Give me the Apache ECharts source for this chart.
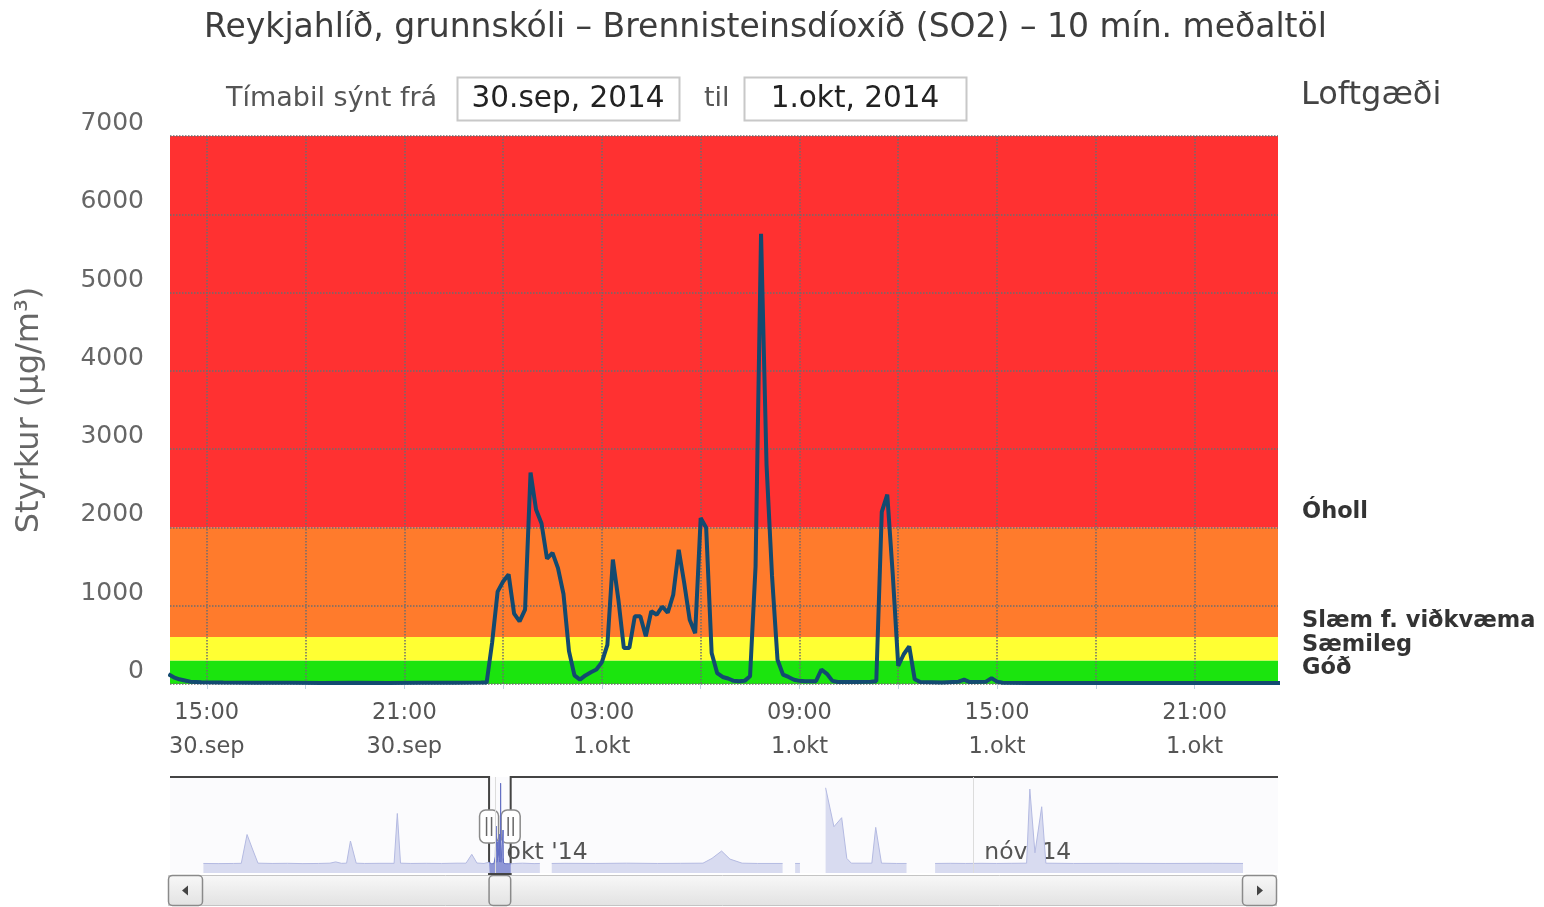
<!DOCTYPE html>
<html><head><meta charset="utf-8">
<script src="https://cdn.jsdelivr.net/npm/echarts@6/dist/echarts.min.js"></script>
<style>html,body{margin:0;padding:0;background:#fff}#c{width:1544px;height:907px}</style>
</head><body><div id="c"></div>
<script>
// ---- main series (10 min averages) ----
const mainTimes = [
'2014-09-30 13:50','2014-09-30 14:00','2014-09-30 14:10','2014-09-30 14:20','2014-09-30 14:30','2014-09-30 14:50',
'2014-09-30 15:30','2014-09-30 16:30','2014-09-30 17:30','2014-09-30 18:30','2014-09-30 19:30','2014-09-30 20:30',
'2014-09-30 21:30','2014-09-30 22:30','2014-09-30 23:20','2014-09-30 23:30','2014-09-30 23:40','2014-09-30 23:50',
'2014-10-01 00:00','2014-10-01 00:10','2014-10-01 00:20','2014-10-01 00:30','2014-10-01 00:40','2014-10-01 00:50',
'2014-10-01 01:00','2014-10-01 01:10','2014-10-01 01:20','2014-10-01 01:30','2014-10-01 01:40','2014-10-01 01:50',
'2014-10-01 02:00','2014-10-01 02:10','2014-10-01 02:20','2014-10-01 02:30','2014-10-01 02:40','2014-10-01 02:50',
'2014-10-01 03:00','2014-10-01 03:10','2014-10-01 03:20','2014-10-01 03:30','2014-10-01 03:40','2014-10-01 03:50',
'2014-10-01 04:00','2014-10-01 04:10','2014-10-01 04:20','2014-10-01 04:30','2014-10-01 04:40','2014-10-01 04:50',
'2014-10-01 05:00','2014-10-01 05:10','2014-10-01 05:20','2014-10-01 05:30','2014-10-01 05:40','2014-10-01 05:50',
'2014-10-01 06:00','2014-10-01 06:10','2014-10-01 06:20','2014-10-01 06:30','2014-10-01 06:40','2014-10-01 06:50',
'2014-10-01 07:00','2014-10-01 07:10','2014-10-01 07:20','2014-10-01 07:30','2014-10-01 07:40','2014-10-01 07:50',
'2014-10-01 08:00','2014-10-01 08:10','2014-10-01 08:20','2014-10-01 08:30','2014-10-01 08:40','2014-10-01 08:50',
'2014-10-01 09:00','2014-10-01 09:10','2014-10-01 09:20','2014-10-01 09:30','2014-10-01 09:40','2014-10-01 09:50',
'2014-10-01 10:00','2014-10-01 10:10','2014-10-01 10:40','2014-10-01 11:10','2014-10-01 11:20','2014-10-01 11:30',
'2014-10-01 11:40','2014-10-01 11:50','2014-10-01 12:00','2014-10-01 12:10','2014-10-01 12:20','2014-10-01 12:30',
'2014-10-01 12:40','2014-10-01 13:20','2014-10-01 13:50','2014-10-01 14:00','2014-10-01 14:10','2014-10-01 14:40',
'2014-10-01 14:50','2014-10-01 15:00','2014-10-01 15:10','2014-10-01 16:00','2014-10-01 17:00','2014-10-01 18:00',
'2014-10-01 19:00','2014-10-01 20:00','2014-10-01 21:00','2014-10-01 22:00','2014-10-01 23:00','2014-10-01 23:40'
];
const mainValues = [
125,85,60,45,30,22,
18,15,15,14,15,14,
15,16,18,20,530,1180,
1310,1400,900,800,950,2700,
2230,2050,1600,1675,1480,1150,
420,110,55,110,150,185,
280,500,1590,1080,460,460,
865,865,610,930,885,990,
910,1140,1715,1290,820,650,
2120,1995,395,140,90,70,
40,35,40,100,1500,5750,
2800,1380,310,120,90,55,
40,35,35,35,185,130,
40,25,25,30,35,2200,
2420,1400,230,380,480,60,
25,20,30,55,25,30,
75,30,15,12,13,12,
14,12,13,12,13,12
];
// ---- navigator overview (outside the shown period) ----
const navBeforeTimes = [
'2014-09-12 01:00','2014-09-13 00:00','2014-09-14 00:00','2014-09-14 12:00','2014-09-14 21:00','2014-09-15 06:00',
'2014-09-15 14:00','2014-09-16 12:00','2014-09-17 12:00','2014-09-18 12:00','2014-09-19 12:00','2014-09-20 06:00',
'2014-09-20 15:00','2014-09-21 00:00','2014-09-21 08:00','2014-09-21 14:00','2014-09-21 23:00','2014-09-22 12:00',
'2014-09-23 12:00','2014-09-24 10:00','2014-09-24 15:00','2014-09-24 20:00','2014-09-25 12:00','2014-09-26 12:00',
'2014-09-27 12:00','2014-09-28 12:00','2014-09-29 02:00','2014-09-29 11:00','2014-09-29 19:00','2014-09-30 06:00'
];
const navBeforeValues = [
40,30,40,50,2100,1000,
60,40,50,30,40,60,
150,50,60,1640,60,40,
50,50,3600,60,40,50,
40,60,60,690,70,40
];
const navAfterTimes = [
'2014-10-02 06:00','2014-10-02 18:00','2014-10-03 12:00','2014-10-03 21:00','2014-10-04 06:00','2014-10-04 15:30',
'2014-10-05 12:00','2014-10-07 12:00','2014-10-09 12:00','2014-10-11 12:00','2014-10-13 00:00','2014-10-14 11:00',
'2014-10-15 01:00','2014-10-15 16:00','2014-10-16 05:00','2014-10-17 00:00','2014-10-18 00:00','2014-10-19 15:00',
'2014-10-20 00:00','2014-10-20 10:30','2014-10-20 18:00','2014-10-21 06:00','2014-10-22 10:00','2014-10-22 23:00',
'2014-10-23 11:00','2014-10-23 19:00','2014-10-24 02:00','2014-10-25 10:00','2014-10-25 16:00','2014-10-26 01:00',
'2014-10-27 00:00','2014-10-27 16:00','2014-10-28 12:00','2014-10-29 12:30','2014-10-30 12:00','2014-10-31 12:00',
'2014-11-01 12:00','2014-11-02 12:00','2014-11-03 12:00','2014-11-04 11:00','2014-11-04 16:00','2014-11-05 00:00',
'2014-11-05 10:30','2014-11-05 17:00','2014-11-07 12:00','2014-11-10 12:00','2014-11-13 12:00','2014-11-16 12:00',
'2014-11-18 12:00'
];
const navAfterValues = [
40,60,30,40,null,40,
50,40,60,40,50,60,
400,925,350,60,40,40,
null,40,40,null,5430,2660,
3300,400,60,60,2610,60,
40,40,null,40,50,40,
50,40,50,60,5340,800,
4080,60,40,50,40,50,
40
];
// ---- air quality bands ----
const bandLimits = [0, 300, 600, 2000, 7000];
const bandNames = ['Góð', 'Sæmileg', 'Slæm f. viðkvæma', 'Óholl'];
const bandColors = ['#1BE40E', '#FFFF33', '#FF7B2C', '#FF3131'];
// ---- ticks ----
const monthNames = ['jan','feb','mar','apr','maí','jún','júl','ágú','sep','okt','nóv','des'];
const xGridTimes = ['2014-09-30 15:00','2014-09-30 18:00','2014-09-30 21:00','2014-10-01 00:00','2014-10-01 03:00',
  '2014-10-01 06:00','2014-10-01 09:00','2014-10-01 12:00','2014-10-01 15:00','2014-10-01 18:00','2014-10-01 21:00'];
const xLabelTimes = ['2014-09-30 15:00','2014-09-30 21:00','2014-10-01 03:00','2014-10-01 09:00','2014-10-01 15:00','2014-10-01 21:00'];
const navMonthTicks = ['2014-10-01 00:00', '2014-11-01 00:00'];
const rangeStart = '2014-09-30 13:53', rangeEnd = '2014-10-01 23:32';
const navStart = '2014-09-09 21:00', navEnd = '2014-11-20 18:30';

function T(s){const [d,t]=s.split(' ');const [Y,M,D]=d.split('-').map(Number);const [h,m]=t.split(':').map(Number);return Date.UTC(Y,M-1,D,h,m);}
const mainData = mainTimes.map((t,i)=>[T(t), mainValues[i]]);
const navData = [].concat(
  navBeforeTimes.map((t,i)=>[T(t), navBeforeValues[i]]),
  mainData,
  navAfterTimes.map((t,i)=>[T(t), navAfterValues[i]===null?'-':navAfterValues[i]])
);
const bandAreas = bandNames.map((n,i)=>[
  {yAxis: bandLimits[i], name: n, itemStyle:{color: bandColors[i]}},
  {yAxis: bandLimits[i+1]}
]);
const pad = n => (n<10?'0':'')+n;

const chart = echarts.init(document.getElementById('c'), null, {renderer:'canvas'});
const F = '"DejaVu Sans", Verdana, sans-serif';
chart.setOption({
  animation: false,
  useUTC: true,
  backgroundColor: '#fff',
  title: {
    text: 'Reykjahlíð, grunnskóli – Brennisteinsdíoxíð (SO2) – 10 mín. meðaltöl',
    left: 199, top: 7,
    textStyle: {fontFamily: F, fontSize: 33, fontWeight: 'normal', color: '#3d3d3d'}
  },
  grid: [
    {left: 170, right: 266, top: 136, bottom: 223},
    {left: 170, right: 266, top: 777, bottom: 34, show: true, backgroundColor: '#fbfbfd', borderWidth: 0}
  ],
  xAxis: [
    {
      type: 'value', gridIndex: 0, min: T(rangeStart), max: T(rangeEnd), z: 2,
      axisLine: {show: false},
      axisTick: {show: true, length: 5, customValues: xGridTimes.map(T), lineStyle: {color: '#C0D0E0'}},
      splitLine: {show: true, lineStyle: {type: 'dotted', color: '#6e6e6e', width: 1.5}},
      axisLabel: {
        customValues: xLabelTimes.map(T),
        fontFamily: F, fontSize: 22.5, color: '#555', lineHeight: 34, margin: 12, hideOverlap: false,
        formatter: function(v){const d=new Date(v);
          return pad(d.getUTCHours())+':'+pad(d.getUTCMinutes())+'\n'+d.getUTCDate()+'.'+monthNames[d.getUTCMonth()];}
      }
    },
    {
      type: 'time', gridIndex: 1, min: T(navStart), max: T(navEnd), splitNumber: 3,
      axisLine: {show: false}, axisTick: {show: false}, splitLine: {show: false},
      axisLabel: {
        inside: true, align: 'left', margin: 8, hideOverlap: false,
        padding: [0,0,0,11], fontFamily: F, fontSize: 23.5, color: '#555',
        formatter: function(v){const d=new Date(v);
          if(d.getUTCDate()!==1||d.getUTCHours()!==0) return '';
          return monthNames[d.getUTCMonth()]+" '14";}
      }
    }
  ],
  yAxis: [
    {
      type: 'value', gridIndex: 0, min: 0, max: 7000, interval: 1000, z: 2,
      name: 'Styrkur (µg/m³)', nameLocation: 'middle', nameGap: 124, nameRotate: 90,
      nameTextStyle: {fontFamily: F, fontSize: 32, color: '#666'},
      axisLine: {show: false}, axisTick: {show: false},
      splitLine: {show: true, lineStyle: {type: 'dotted', color: '#6e6e6e', width: 1.5}},
      axisLabel: {fontFamily: F, fontSize: 25, color: '#666', formatter: v => String(v),
        margin: 26, verticalAlign: 'bottom', padding: [0,0,0,0]}
    },
    {type: 'value', gridIndex: 1, min: -640, max: 6200, show: false, splitLine: {show: false}}
  ],
  series: [
    {
      type: 'line', xAxisIndex: 0, yAxisIndex: 0, z: 3, data: mainData,
      showSymbol: false, symbol: 'none', clip: true,
      lineStyle: {color: '#134A70', width: 4},
      markArea: {
        silent: true, z: 1,
        label: {show: true, position: ['100%','100%'], offset: [24, -4], align: 'left', verticalAlign: 'bottom',
          fontFamily: F, fontWeight: 'bold', fontSize: 22.5, color: '#333'},
        data: bandAreas
      }
    },
    {
      type: 'line', xAxisIndex: 1, yAxisIndex: 1, data: navData, showSymbol: false, symbol: 'none',
      connectNulls: false,
      lineStyle: {color: '#b4bae2', width: 1},
      areaStyle: {color: '#d8dbf0', opacity: 1, origin: 'start'},
      markLine: {silent: true, symbol: 'none', label: {show: false},
        lineStyle: {color: '#dcdcdc', width: 1, type: 'solid'},
        data: navMonthTicks.map(t=>({xAxis: T(t)}))}
    },
    {
      type: 'line', xAxisIndex: 1, yAxisIndex: 1, data: mainData, showSymbol: false, symbol: 'none',
      lineStyle: {color: '#6470c4', width: 1},
      areaStyle: {color: '#8f97d6', opacity: 1, origin: 'start'}
    }
  ]
});

// ---- controls & navigator decorations ----
const x0 = chart.convertToPixel({xAxisIndex: 1}, T(rangeStart));
const x1 = chart.convertToPixel({xAxisIndex: 1}, T(rangeEnd));
const L = 170, R = 1278, NT = 777, NB = 874;
const grad = new echarts.graphic.LinearGradient(0,0,0,1,[{offset:0,color:'#f8f8f8'},{offset:1,color:'#e2e2e2'}]);
function handle(cx){
  return {type:'group', children:[
    {type:'rect', shape:{x:cx-9.5, y:810, width:19, height:33, r:6}, style:{fill:'#fff', stroke:'#8a8a8a', lineWidth:1.5}},
    {type:'line', shape:{x1:cx-2.5, y1:817, x2:cx-2.5, y2:836}, style:{stroke:'#666', lineWidth:1.5}},
    {type:'line', shape:{x1:cx+2.5, y1:817, x2:cx+2.5, y2:836}, style:{stroke:'#666', lineWidth:1.5}}
  ]};
}
chart.setOption({graphic: [
  {type:'text', x: 226, y: 99, style:{text:'Tímabil sýnt frá', font:'27px '+F, fill:'#555', verticalAlign:'middle'}},
  {type:'rect', shape:{x:457.5, y:77.5, width:222, height:43}, style:{fill:'#fff', stroke:'#c8c8c8', lineWidth:2}},
  {type:'text', x: 568, y: 99, style:{text:'30.sep, 2014', font:'29.5px '+F, fill:'#222', align:'center', verticalAlign:'middle'}},
  {type:'text', x: 704, y: 99, style:{text:'til', font:'27px '+F, fill:'#555', verticalAlign:'middle'}},
  {type:'rect', shape:{x:744.5, y:77.5, width:222, height:43}, style:{fill:'#fff', stroke:'#c8c8c8', lineWidth:2}},
  {type:'text', x: 855, y: 99, style:{text:'1.okt, 2014', font:'29.5px '+F, fill:'#222', align:'center', verticalAlign:'middle'}},
  {type:'text', x: 1301, y: 96, style:{text:'Loftgæði', font:'32px '+F, fill:'#444', verticalAlign:'middle'}},
  // scrollbar
  {type:'rect', shape:{x:168.5, y:875.5, width:1108, height:30}, style:{fill:grad, stroke:'#c4c4c4', lineWidth:1}},
  {type:'rect', shape:{x:168.5, y:875.5, width:34, height:30, r:4}, style:{fill:grad, stroke:'#8a8a8a', lineWidth:1.5}},
  {type:'polygon', shape:{points:[[182,890.5],[188,885.5],[188,895.5]]}, style:{fill:'#444'}},
  {type:'rect', shape:{x:1242.5, y:875.5, width:34, height:30, r:4}, style:{fill:grad, stroke:'#8a8a8a', lineWidth:1.5}},
  {type:'polygon', shape:{points:[[1263,890.5],[1257,885.5],[1257,895.5]]}, style:{fill:'#444'}},
  {type:'rect', shape:{x:x0, y:875.5, width:x1-x0, height:30, r:4}, style:{fill:grad, stroke:'#8a8a8a', lineWidth:1.5}},
  // navigator outline
  {type:'polyline', shape:{points:[[L,NT],[x0,NT],[x0,NB],[x1,NB],[x1,NT],[R,NT]]}, style:{stroke:'#444', lineWidth:2, fill:null}},
  handle(x0), handle(x1)
]});
</script>
</body></html>
